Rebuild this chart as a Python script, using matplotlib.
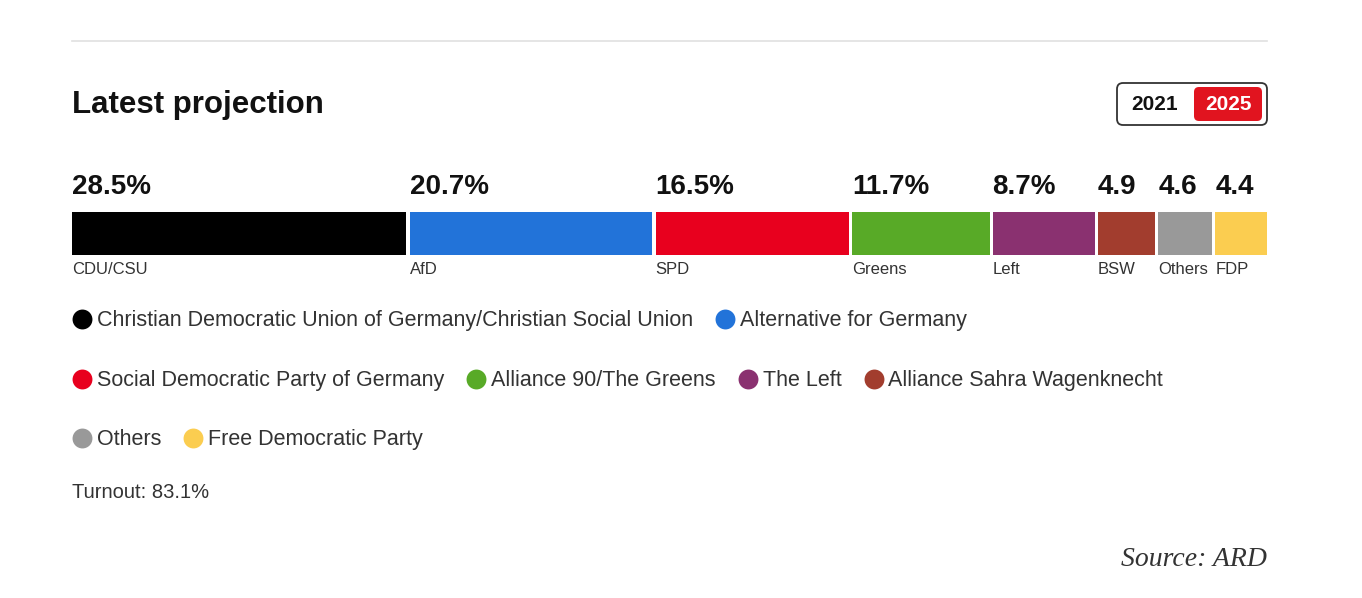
import matplotlib.pyplot as plt
from matplotlib.patches import FancyBboxPatch

# data
parties = ['CDU/CSU', 'AfD', 'SPD', 'Greens', 'Left', 'BSW', 'Others', 'FDP']
values = [28.5, 20.7, 16.5, 11.7, 8.7, 4.9, 4.6, 4.4]
value_labels = ['28.5%', '20.7%', '16.5%', '11.7%', '8.7%', '4.9', '4.6', '4.4']
full_names = ['Christian Democratic Union of Germany/Christian Social Union',
              'Alternative for Germany',
              'Social Democratic Party of Germany',
              'Alliance 90/The Greens',
              'The Left',
              'Alliance Sahra Wagenknecht',
              'Others',
              'Free Democratic Party']
colors = ['#000000', '#2273d9', '#e8001e', '#58aa27', '#8a3170',
          '#a23d2e', '#999999', '#fbcd50']
legend_rows = [[0, 1], [2, 3, 4, 5], [6, 7]]
years = ['2021', '2025']
turnout = 'Turnout: 83.1%'
source = 'Source: ARD'

W, H = 1362, 598
plt.rcParams['font.family'] = ['Liberation Sans', 'DejaVu Sans']
fig = plt.figure(figsize=(W / 100, H / 100), dpi=100)

# overlay axes in pixel coords for the page furniture
ax0 = fig.add_axes([0, 0, 1, 1])
ax0.set_xlim(0, W)
ax0.set_ylim(H, 0)
ax0.axis('off')

ax0.plot([72, 1267], [41, 41], color='#e0e0e0', lw=1.2)
ax0.text(72, 105, 'Latest projection', fontsize=22.5, fontweight='bold',
         color='#111111', va='center', ha='left')

# year toggle
ax0.add_patch(FancyBboxPatch((1117, 83), 150, 42,
                             boxstyle='round,pad=0,rounding_size=6',
                             fc='white', ec='#333333', lw=1.3))
ax0.add_patch(FancyBboxPatch((1194, 87), 68, 34,
                             boxstyle='round,pad=0,rounding_size=5',
                             fc='#e1141f', ec='none'))
ax0.text(1155, 104, years[0], fontsize=15, fontweight='bold', color='#111111',
         ha='center', va='center')
ax0.text(1228, 104, years[1], fontsize=15, fontweight='bold', color='white',
         ha='center', va='center')

# stacked bar
gap = 0.26
lefts = []
pos = 0
for v in values:
    lefts.append(pos)
    pos += v + gap
ax = fig.add_axes([72 / W, 1 - 255 / H, 1195 / W, 43 / H])
ax.barh(0, values, left=lefts, height=1, color=colors)
ax.set_xlim(0, sum(values) + gap * (len(values) - 1))
ax.set_ylim(-0.5, 0.5)
ax.axis('off')

for l, lab, name in zip(lefts, value_labels, parties):
    ax.text(l, 1.07, lab, fontsize=20, fontweight='bold', color='#111111',
            ha='left', va='center', clip_on=False)
    ax.text(l, -0.83, name, fontsize=12, color='#333333',
            ha='left', va='center', clip_on=False)

# legend
fig.canvas.draw()
renderer = fig.canvas.get_renderer()
row_y = [319, 379, 438]
for ry, row in zip(row_y, legend_rows):
    x = 72
    for i in row:
        ax0.scatter(x + 10, ry, s=205, color=colors[i], lw=0, zorder=3)
        t = ax0.text(x + 25, ry + 1.5, full_names[i], fontsize=15.5, color='#333333',
                     ha='left', va='center')
        bb = t.get_window_extent(renderer)
        x = bb.x1 + 22

ax0.text(72, 493, turnout, fontsize=14.5, color='#333333', ha='left', va='center')
ax0.text(1267, 560, source, fontsize=20, style='italic', color='#333333',
         family='Liberation Serif', ha='right', va='center')

fig.savefig('out.png', dpi=100)
